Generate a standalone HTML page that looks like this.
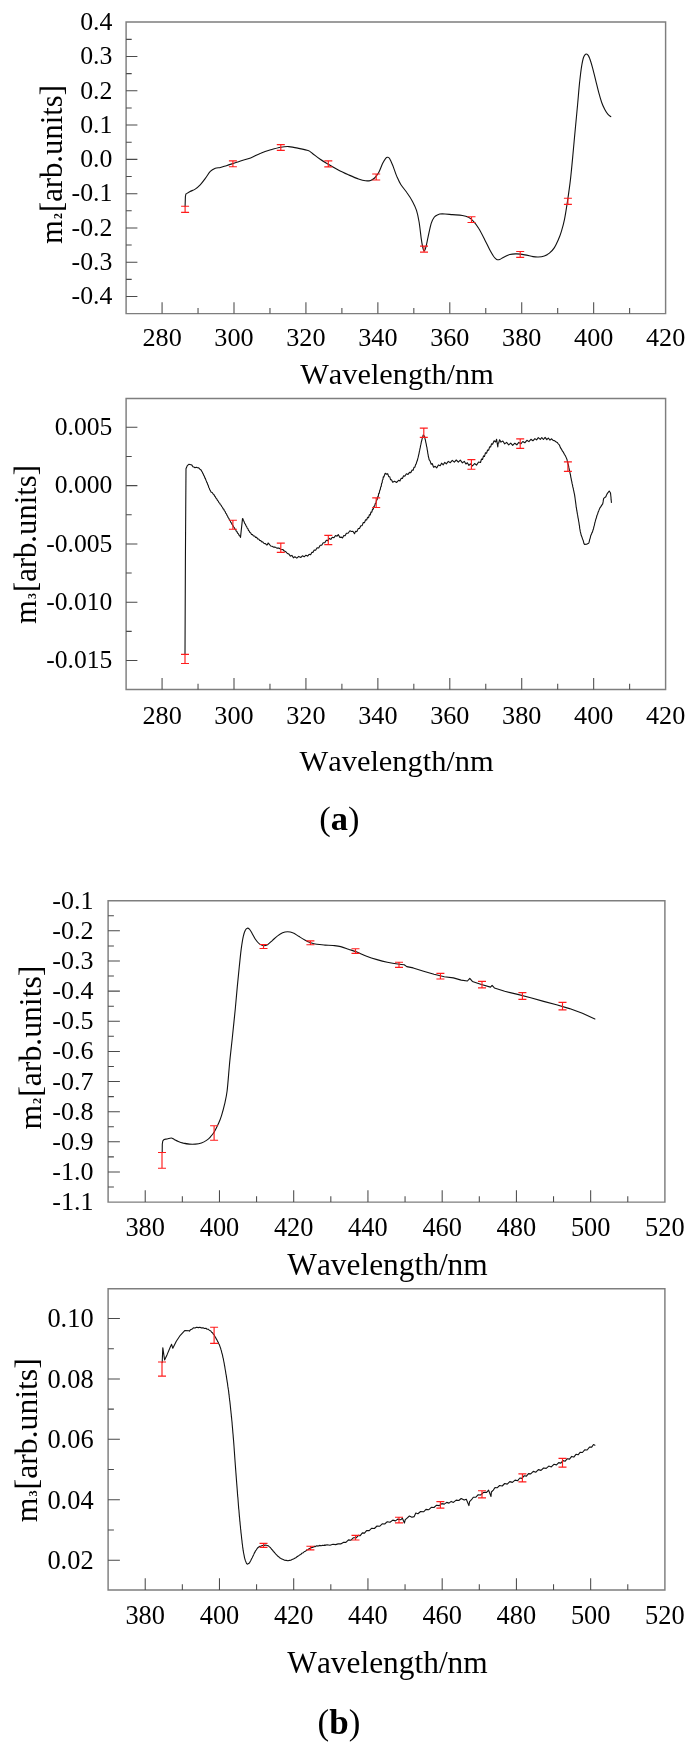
<!DOCTYPE html>
<html><head><meta charset="utf-8"><title>Figure</title>
<style>
html,body{margin:0;padding:0;background:#fff;}
body{width:695px;height:1752px;overflow:hidden;font-family:"Liberation Serif",serif;}
svg{display:block;will-change:transform;transform:translateZ(0);}
</style></head><body>
<svg width="695" height="1752" viewBox="0 0 695 1752" font-family='"Liberation Serif", serif' fill="#000" style="font-kerning:none">
<path d="M126.10 21.90H665.60V313.60H126.10Z" fill="none" stroke="#7e7e7e" stroke-width="1.45"/>
<path d="M126.10 296.52h11.3M126.10 262.23h11.3M126.10 227.94h11.3M126.10 193.65h11.3M126.10 159.36h11.3M126.10 125.07h11.3M126.10 90.78h11.3M126.10 56.49h11.3M126.10 279.37h5.6M126.10 245.09h5.6M126.10 210.80h5.6M126.10 176.51h5.6M126.10 142.22h5.6M126.10 107.92h5.6M126.10 73.64h5.6M126.10 39.35h5.6" stroke="#4a4a4a" stroke-width="1.05" fill="none"/>
<path d="M162.07 313.60v-11.3M234.00 313.60v-11.3M305.93 313.60v-11.3M377.87 313.60v-11.3M449.80 313.60v-11.3M521.73 313.60v-11.3M593.67 313.60v-11.3M198.03 313.60v-5.6M269.97 313.60v-5.6M341.90 313.60v-5.6M413.83 313.60v-5.6M485.77 313.60v-5.6M557.70 313.60v-5.6M629.63 313.60v-5.6" stroke="#4a4a4a" stroke-width="1.05" fill="none"/>
<text x="112.4" y="304.2" font-size="25.8" text-anchor="end" >-0.4</text>
<text x="112.4" y="269.9" font-size="25.8" text-anchor="end" >-0.3</text>
<text x="112.4" y="235.6" font-size="25.8" text-anchor="end" >-0.2</text>
<text x="112.4" y="201.3" font-size="25.8" text-anchor="end" >-0.1</text>
<text x="112.4" y="167.1" font-size="25.8" text-anchor="end" >0.0</text>
<text x="112.4" y="132.8" font-size="25.8" text-anchor="end" >0.1</text>
<text x="112.4" y="98.5" font-size="25.8" text-anchor="end" >0.2</text>
<text x="112.4" y="64.2" font-size="25.8" text-anchor="end" >0.3</text>
<text x="112.4" y="29.9" font-size="25.8" text-anchor="end" >0.4</text>
<text x="162.1" y="346.2" font-size="26.2" text-anchor="middle" >280</text>
<text x="234.0" y="346.2" font-size="26.2" text-anchor="middle" >300</text>
<text x="305.9" y="346.2" font-size="26.2" text-anchor="middle" >320</text>
<text x="377.9" y="346.2" font-size="26.2" text-anchor="middle" >340</text>
<text x="449.8" y="346.2" font-size="26.2" text-anchor="middle" >360</text>
<text x="521.7" y="346.2" font-size="26.2" text-anchor="middle" >380</text>
<text x="593.7" y="346.2" font-size="26.2" text-anchor="middle" >400</text>
<text x="665.6" y="346.2" font-size="26.2" text-anchor="middle" >420</text>
<text x="397.0" y="383.5" font-size="30.3" text-anchor="middle" >Wavelength/nm</text>
<text transform="translate(61.8 164.5) rotate(-90)" font-size="30.7" text-anchor="middle">m<tspan font-size="11.8" dx="0.9" font-weight="bold">2</tspan><tspan dx="1.1">[arb.units]</tspan></text>
<path d="M185.1 206.2L185.4 196.5L185.9 194.0C186.6 193.6 188.6 192.3 190.1 191.5C191.6 190.7 193.5 190.2 195.2 189.1C196.9 188.0 198.5 186.7 200.2 184.9C201.9 183.1 203.6 180.7 205.3 178.4C207.0 176.2 208.6 173.1 210.3 171.4C212.0 169.7 213.6 169.0 215.3 168.3C217.0 167.7 218.6 167.9 220.4 167.5C222.2 167.1 224.4 166.3 226.4 165.7C228.4 165.1 230.1 164.5 232.4 163.7C234.8 162.9 237.5 161.9 240.5 160.9C243.5 159.9 247.2 159.2 250.6 157.9C254.0 156.6 257.3 154.5 260.7 153.2C264.1 151.8 267.3 150.8 270.7 149.8C274.1 148.8 277.8 147.7 280.8 147.2C283.8 146.7 285.9 146.4 288.9 146.6C291.9 146.8 295.7 147.7 298.9 148.4C302.1 149.1 305.9 149.8 308.1 150.6C310.3 151.4 310.2 151.8 312.2 153.2C314.2 154.6 317.5 157.5 320.2 159.3C322.9 161.2 325.3 162.5 328.3 164.3C331.3 166.1 335.0 168.2 338.3 170.0C341.6 171.8 345.0 173.3 348.4 174.8C351.8 176.3 355.6 178.0 358.5 179.0C361.4 180.0 363.5 180.6 365.5 180.8C367.5 181.0 369.1 180.9 370.6 180.4C372.1 179.9 373.3 179.3 374.6 178.0C375.9 176.7 377.2 175.2 378.6 172.8C380.0 170.4 381.5 165.7 382.7 163.3C383.9 160.9 384.9 159.3 385.7 158.3C386.5 157.3 387.0 157.2 387.7 157.3C388.4 157.4 388.9 157.4 389.7 158.7C390.5 160.0 391.5 162.4 392.7 165.3C393.9 168.2 395.4 173.2 396.8 176.4C398.2 179.6 399.1 181.8 400.8 184.5C402.5 187.2 404.9 189.7 406.8 192.5C408.8 195.3 410.9 198.4 412.5 201.4C414.1 204.4 415.4 207.0 416.5 210.4C417.6 213.8 418.3 217.3 419.1 222.0C419.9 226.7 420.6 234.2 421.2 238.4C421.8 242.7 422.3 245.4 422.8 247.5C423.3 249.6 423.7 250.9 424.2 250.9C424.7 250.9 425.1 249.9 425.8 247.5C426.5 245.1 427.3 240.4 428.2 236.4C429.1 232.4 430.2 226.5 431.2 223.3C432.2 220.1 433.2 218.7 434.2 217.3C435.2 215.9 435.9 215.5 437.3 214.9C438.7 214.3 439.8 213.9 442.3 213.8C444.8 213.8 449.0 214.3 452.4 214.6C455.8 214.9 459.7 215.1 462.4 215.5C465.1 215.9 466.6 216.3 468.5 217.3C470.4 218.3 471.8 219.5 473.5 221.3C475.2 223.1 476.8 225.3 478.6 228.3C480.5 231.3 482.8 235.9 484.6 239.4C486.4 242.9 488.1 246.7 489.6 249.5C491.1 252.3 492.5 254.8 493.7 256.5C494.9 258.1 495.7 258.9 496.7 259.4C497.7 259.9 498.5 259.8 499.7 259.4C500.9 259.0 502.0 258.0 503.7 257.2C505.4 256.4 507.6 255.1 509.8 254.5C512.0 253.9 514.3 253.8 516.8 253.9C519.3 254.0 522.2 254.4 524.9 254.9C527.6 255.4 530.8 256.2 533.0 256.6C535.2 257.0 536.4 257.1 538.3 257.0C540.2 256.9 542.4 256.6 544.3 256.0C546.1 255.4 547.7 254.6 549.4 253.2C551.1 251.8 552.9 249.9 554.4 247.6C555.9 245.3 557.2 242.2 558.4 239.5C559.6 236.8 560.4 234.8 561.4 231.4C562.4 228.1 563.5 224.4 564.5 219.4C565.5 214.4 566.5 207.9 567.5 201.2C568.5 194.5 569.6 186.8 570.5 179.1C571.4 171.4 572.1 163.6 572.9 154.9C573.7 146.2 574.7 135.1 575.5 126.7C576.3 118.3 576.9 111.9 577.6 104.5C578.3 97.1 578.9 88.8 579.6 82.4C580.3 76.0 580.9 70.5 581.6 66.3C582.3 62.1 582.9 59.2 583.6 57.2C584.3 55.2 584.9 54.6 585.6 54.2C586.3 53.8 586.9 53.9 587.6 54.6C588.3 55.3 588.8 55.9 589.6 58.2C590.5 60.5 591.7 64.6 592.7 68.3C593.7 72.0 594.7 76.4 595.7 80.4C596.7 84.4 597.7 88.7 598.7 92.4C599.7 96.1 600.7 99.6 601.7 102.5C602.7 105.4 603.8 107.6 604.8 109.6C605.8 111.5 606.8 113.0 607.8 114.2C608.8 115.4 610.3 116.2 610.8 116.6" stroke="#111" stroke-width="1.10" fill="none" stroke-linejoin="round" stroke-linecap="round"/>
<path d="M185.1 206.2V212.3M181.1 206.2h8.0M181.1 212.3h8.0M232.9 160.9V166.7M228.9 160.9h8.0M228.9 166.7h8.0M280.8 144.6V150.4M276.8 144.6h8.0M276.8 150.4h8.0M328.3 160.9V166.9M324.3 160.9h8.0M324.3 166.9h8.0M376.2 174.0V180.0M372.2 174.0h8.0M372.2 180.0h8.0M424.0 246.1V252.1M420.0 246.1h8.0M420.0 252.1h8.0M471.5 216.7V222.5M467.5 216.7h8.0M467.5 222.5h8.0M520.2 251.5V257.3M516.2 251.5h8.0M516.2 257.3h8.0M567.9 198.2V204.3M563.9 198.2h8.0M563.9 204.3h8.0" stroke="#ff1c1c" stroke-width="1.15" fill="none"/>
<path d="M126.10 398.40H665.60V689.40H126.10Z" fill="none" stroke="#7e7e7e" stroke-width="1.45"/>
<path d="M126.10 427.30h11.3M126.10 485.60h11.3M126.10 543.90h11.3M126.10 602.20h11.3M126.10 660.50h11.3M126.10 456.45h5.6M126.10 514.75h5.6M126.10 573.05h5.6M126.10 631.35h5.6" stroke="#4a4a4a" stroke-width="1.05" fill="none"/>
<path d="M162.07 689.40v-11.3M234.00 689.40v-11.3M305.93 689.40v-11.3M377.87 689.40v-11.3M449.80 689.40v-11.3M521.73 689.40v-11.3M593.67 689.40v-11.3M198.03 689.40v-5.6M269.97 689.40v-5.6M341.90 689.40v-5.6M413.83 689.40v-5.6M485.77 689.40v-5.6M557.70 689.40v-5.6M629.63 689.40v-5.6" stroke="#4a4a4a" stroke-width="1.05" fill="none"/>
<text x="112.3" y="435.0" font-size="25.6" text-anchor="end" >0.005</text>
<text x="112.3" y="493.3" font-size="25.6" text-anchor="end" >0.000</text>
<text x="112.3" y="551.6" font-size="25.6" text-anchor="end" >-0.005</text>
<text x="112.3" y="609.9" font-size="25.6" text-anchor="end" >-0.010</text>
<text x="112.3" y="668.2" font-size="25.6" text-anchor="end" >-0.015</text>
<text x="162.1" y="723.6" font-size="26.2" text-anchor="middle" >280</text>
<text x="234.0" y="723.6" font-size="26.2" text-anchor="middle" >300</text>
<text x="305.9" y="723.6" font-size="26.2" text-anchor="middle" >320</text>
<text x="377.9" y="723.6" font-size="26.2" text-anchor="middle" >340</text>
<text x="449.8" y="723.6" font-size="26.2" text-anchor="middle" >360</text>
<text x="521.7" y="723.6" font-size="26.2" text-anchor="middle" >380</text>
<text x="593.7" y="723.6" font-size="26.2" text-anchor="middle" >400</text>
<text x="665.6" y="723.6" font-size="26.2" text-anchor="middle" >420</text>
<text x="396.6" y="770.5" font-size="30.4" text-anchor="middle" >Wavelength/nm</text>
<text transform="translate(36.1 544.5) rotate(-90)" font-size="30.7" text-anchor="middle">m<tspan font-size="11.8" dx="0.9" font-weight="bold">3</tspan><tspan dx="1.1">[arb.units]</tspan></text>
<path d="M185.0 654.4L185.4 560.0L186.0 468.8L187.3 465.6L188.8 464.3L191.0 464.8L191.9 465.1L192.9 466.7L193.9 467.1L195.0 467.7L196.3 467.2L197.5 467.8L198.7 467.9L199.9 469.2L201.1 470.0L201.7 471.3L202.2 471.8L202.8 473.4L203.3 474.1L203.9 475.7L204.4 476.3L204.9 478.0L205.4 478.5L205.9 480.2L206.3 480.8L206.8 482.4L207.3 483.1L207.8 484.8L208.3 485.6L208.8 487.5L209.3 488.2L209.8 489.9L210.3 490.4L211.2 492.2L212.2 492.5L213.3 494.3L213.9 494.6L214.6 496.0L215.2 496.6L216.0 498.2L216.7 498.8L217.5 500.5L218.3 501.1L218.9 502.6L219.6 503.1L220.3 504.6L221.0 505.1L221.7 506.6L222.4 507.1L223.1 508.7L223.8 509.2L224.4 510.8L225.1 511.4L225.7 513.1L226.4 513.8L227.0 515.4L227.6 516.1L228.2 517.7L228.8 518.3L229.4 519.8L230.1 520.6L230.8 522.4L231.5 523.0L232.2 524.7L232.8 525.3L233.5 526.9L234.2 527.4L234.9 529.0L235.6 529.6L236.2 531.1L236.9 531.5L237.5 533.0L238.4 533.8L239.2 535.5L240.0 536.1L240.5 537.4L242.5 518.6L242.9 518.7L243.4 520.5L244.0 521.3L244.7 523.4L245.5 524.3L246.0 525.9L246.6 526.4L247.2 528.1L247.9 528.7L248.5 530.5L249.2 530.9L249.9 532.5L250.6 532.8L251.5 534.5L252.5 534.6L253.5 536.0L254.6 536.0L255.6 537.4L256.6 537.3L257.6 538.9L258.7 539.0L259.7 540.4L260.8 540.6L261.8 542.0L262.7 541.9L264.1 543.5L265.4 543.6L266.6 544.9L267.4 544.7L268.1 543.0L269.0 543.9L270.7 546.0L272.0 546.2L273.5 547.1L275.2 547.1L276.8 548.1L278.8 548.1L280.8 549.2L282.8 549.5L284.3 551.1L285.9 551.8L287.4 553.5L288.9 554.1L290.4 556.1L291.9 555.4L293.4 557.8L294.9 556.7L296.8 558.1L298.7 556.4L300.9 557.4L302.4 555.8L304.2 556.8L305.9 555.2L307.6 556.1L309.1 554.3L310.6 554.7L311.8 552.4L312.9 552.4L314.2 550.0L315.6 550.2L317.1 547.7L318.7 548.0L320.2 545.2L321.7 545.3L323.2 542.7L324.8 542.7L326.3 540.2L327.8 540.6L329.3 538.4L330.8 539.4L332.3 537.2L333.9 537.8L335.5 535.6L337.0 536.2L338.3 534.6L339.9 537.4L341.4 537.1L342.5 538.0L343.8 535.6L345.1 535.8L346.4 533.2L348.1 533.3L349.9 530.8L351.4 531.5L352.9 531.3L354.5 533.7L355.6 531.3L356.9 531.6L358.2 528.6L359.5 528.5L360.8 525.7L362.1 525.6L363.3 522.5L364.5 522.6L365.6 519.8L366.6 520.0L367.6 517.4L368.6 517.6L369.4 514.7L370.2 515.0L371.0 512.0L371.8 512.1L372.6 509.0L373.3 509.1L373.9 506.3L374.6 506.2L375.3 503.5L375.9 503.1L376.6 500.0L377.1 500.0L377.6 496.8L378.2 496.7L378.7 493.4L379.2 493.4L379.8 490.0L380.2 489.9L380.7 486.9L381.2 486.5L381.6 483.4L382.1 482.9L382.5 479.8L382.9 479.8L383.3 476.8L383.7 477.2L385.2 473.3L386.7 474.3L387.7 473.7L388.7 476.7L389.7 476.7L390.6 479.8L391.5 479.7L392.7 482.2L394.5 481.2L396.7 482.4L398.8 480.2L400.0 480.9L401.2 478.2L402.4 478.4L403.6 475.8L404.8 476.3L406.4 473.8L408.0 474.4L409.5 472.4L410.9 472.6L412.1 470.0L413.1 470.3L414.0 467.4L414.9 467.2L415.6 464.7L416.2 463.9L416.7 461.9L417.3 460.6L417.9 458.1L418.2 457.2L418.6 455.2L418.9 454.1L419.3 451.9L419.6 450.7L420.0 448.5L420.3 447.4L420.6 445.3L420.9 444.4L421.4 441.7L421.9 440.0L422.4 437.6L422.8 436.6L423.2 435.0L424.4 436.2L424.7 436.9L425.0 438.8L425.4 440.0L425.8 442.3L426.2 443.8L426.6 446.3L426.9 447.3L427.2 449.6L427.5 450.9L427.8 453.3L428.1 454.6L428.4 456.8L428.8 457.9L429.1 459.6L430.1 461.0L431.2 464.3L432.2 463.5L433.6 467.3L435.2 466.3L436.7 467.9L438.4 464.9L440.2 465.8L441.6 463.2L443.2 464.8L444.8 462.4L446.3 463.8L448.3 461.4L450.3 462.7L452.3 460.3L454.3 462.1L456.3 460.0L458.3 462.1L460.3 460.2L462.4 462.8L464.4 461.4L465.9 464.0L467.4 462.8L468.9 465.4L470.4 463.8L472.5 465.8L474.6 463.5L476.5 465.1L478.6 462.0L480.5 462.5L481.5 459.0L482.5 459.5L483.5 455.9L484.5 456.4L485.5 452.7L486.6 453.2L487.6 450.0L488.6 450.3L489.6 446.9L490.6 447.0L491.6 443.7L492.6 444.2L494.1 440.8L495.6 442.0L496.6 439.3L497.8 447.0L498.1 443.3L498.7 443.0L499.6 439.7L501.0 442.1L502.8 441.0L504.7 443.9L506.6 442.4L508.7 444.9L510.7 443.1L512.7 445.3L514.8 443.2L516.8 444.8L518.8 442.4L520.8 443.8L522.8 441.5L524.8 442.8L526.9 440.3L528.9 441.6L530.9 439.3L532.9 440.8L534.9 438.6L536.6 439.9L538.3 437.6L540.3 439.4L541.8 437.5L543.4 439.5L545.1 437.4L546.8 439.7L548.3 438.0L550.0 440.1L551.6 438.8L553.1 440.4L554.4 440.6L555.9 441.8L557.2 442.4L558.4 444.0L559.5 445.2L560.4 447.6L561.4 449.1L562.5 451.2L563.5 452.4L564.5 454.5L565.3 455.6L566.1 457.4L566.9 459.2L567.3 460.9L567.6 461.9L568.0 463.8L568.4 465.0L568.8 467.2L569.1 468.5L569.5 470.6L569.8 471.8L570.2 473.8L570.5 475.0L570.8 477.1L571.1 478.4L571.5 480.6L571.8 481.7L572.1 483.7L572.5 484.9L572.8 486.9L573.2 488.1L573.5 489.9L573.8 491.1L574.2 493.1L574.5 494.4L574.8 496.4L575.0 497.7L575.3 500.0L575.5 501.4L575.8 503.6L576.0 505.0L576.2 507.2L576.5 508.5L576.8 510.7L577.1 512.1L577.4 514.2L577.7 515.5L578.0 517.6L578.3 518.8L578.6 521.0L578.9 522.3L579.2 524.6L579.5 526.1L579.7 528.4L580.0 529.7L580.3 531.7L580.6 532.7L581.3 535.6L581.9 536.9L582.6 539.1L583.3 540.8L583.9 543.4L584.6 544.4L586.6 544.2L588.6 543.2L589.1 542.2L589.6 539.8L590.2 538.1L590.7 535.7L591.3 534.6L591.9 532.9L592.5 531.9L593.1 529.7L593.5 528.7L593.9 526.6L594.4 525.2L594.8 523.0L595.2 521.7L595.7 519.6L596.3 518.0L596.9 515.6L597.6 514.2L598.2 511.9L598.7 510.9L599.8 508.1L600.7 506.9L601.8 505.1L602.7 503.9L603.1 501.9L603.3 500.4L603.7 498.4L605.8 496.8L606.8 494.4L607.8 492.8L609.2 491.0L610.4 492.8L610.6 493.7L610.8 495.8L611.0 497.4L611.1 499.7L611.3 501.0L611.4 502.5" stroke="#111" stroke-width="1.10" fill="none" stroke-linejoin="round" stroke-linecap="round"/>
<path d="M185.0 654.4V663.5M181.0 654.4h8.0M181.0 663.5h8.0M232.9 520.2V529.2M228.9 520.2h8.0M228.9 529.2h8.0M280.8 543.1V552.4M276.8 543.1h8.0M276.8 552.4h8.0M328.3 535.3V544.6M324.3 535.3h8.0M324.3 544.6h8.0M376.2 497.8V507.5M372.2 497.8h8.0M372.2 507.5h8.0M423.8 428.1V437.4M419.8 428.1h8.0M419.8 437.4h8.0M471.4 459.6V469.2M467.4 459.6h8.0M467.4 469.2h8.0M520.2 438.8V448.3M516.2 438.8h8.0M516.2 448.3h8.0M567.9 461.8V471.4M563.9 461.8h8.0M563.9 471.4h8.0" stroke="#ff1c1c" stroke-width="1.15" fill="none"/>
<text x="339.3" y="829.9" font-size="34.5" text-anchor="middle">(<tspan font-weight="bold">a</tspan>)</text>
<path d="M108.10 900.70H664.90V1202.10H108.10Z" fill="none" stroke="#7e7e7e" stroke-width="1.45"/>
<path d="M108.10 930.84h11.8M108.10 960.98h11.8M108.10 991.12h11.8M108.10 1021.26h11.8M108.10 1051.40h11.8M108.10 1081.54h11.8M108.10 1111.68h11.8M108.10 1141.82h11.8M108.10 1171.96h11.8M108.10 915.77h5.8M108.10 945.91h5.8M108.10 976.05h5.8M108.10 1006.19h5.8M108.10 1036.33h5.8M108.10 1066.47h5.8M108.10 1096.61h5.8M108.10 1126.75h5.8M108.10 1156.89h5.8M108.10 1187.03h5.8" stroke="#4a4a4a" stroke-width="1.05" fill="none"/>
<path d="M145.22 1202.10v-11.8M219.46 1202.10v-11.8M293.70 1202.10v-11.8M367.94 1202.10v-11.8M442.18 1202.10v-11.8M516.42 1202.10v-11.8M590.66 1202.10v-11.8M182.34 1202.10v-5.8M256.58 1202.10v-5.8M330.82 1202.10v-5.8M405.06 1202.10v-5.8M479.30 1202.10v-5.8M553.54 1202.10v-5.8M627.78 1202.10v-5.8" stroke="#4a4a4a" stroke-width="1.05" fill="none"/>
<text x="93.4" y="908.7" font-size="26.0" text-anchor="end" >-0.1</text>
<text x="93.4" y="938.8" font-size="26.0" text-anchor="end" >-0.2</text>
<text x="93.4" y="969.0" font-size="26.0" text-anchor="end" >-0.3</text>
<text x="93.4" y="999.1" font-size="26.0" text-anchor="end" >-0.4</text>
<text x="93.4" y="1029.3" font-size="26.0" text-anchor="end" >-0.5</text>
<text x="93.4" y="1059.4" font-size="26.0" text-anchor="end" >-0.6</text>
<text x="93.4" y="1089.5" font-size="26.0" text-anchor="end" >-0.7</text>
<text x="93.4" y="1119.7" font-size="26.0" text-anchor="end" >-0.8</text>
<text x="93.4" y="1149.8" font-size="26.0" text-anchor="end" >-0.9</text>
<text x="93.4" y="1180.0" font-size="26.0" text-anchor="end" >-1.0</text>
<text x="93.4" y="1210.1" font-size="26.0" text-anchor="end" >-1.1</text>
<text x="145.2" y="1235.5" font-size="26.4" text-anchor="middle" >380</text>
<text x="219.5" y="1235.5" font-size="26.4" text-anchor="middle" >400</text>
<text x="293.7" y="1235.5" font-size="26.4" text-anchor="middle" >420</text>
<text x="367.9" y="1235.5" font-size="26.4" text-anchor="middle" >440</text>
<text x="442.2" y="1235.5" font-size="26.4" text-anchor="middle" >460</text>
<text x="516.4" y="1235.5" font-size="26.4" text-anchor="middle" >480</text>
<text x="590.7" y="1235.5" font-size="26.4" text-anchor="middle" >500</text>
<text x="664.9" y="1235.5" font-size="26.4" text-anchor="middle" >520</text>
<text x="387.5" y="1274.5" font-size="31.4" text-anchor="middle" >Wavelength/nm</text>
<text transform="translate(41.0 1047.6) rotate(-90)" font-size="31.7" text-anchor="middle">m<tspan font-size="12.2" dx="0.9" font-weight="bold">2</tspan><tspan dx="1.1">[arb.units]</tspan></text>
<path d="M162.2 1152.5L162.3 1144.0L162.8 1141.0C163.0 1140.7 163.5 1139.7 164.2 1139.4C164.9 1139.1 166.0 1139.2 167.2 1139.0C168.4 1138.8 170.0 1137.9 171.2 1138.0C172.4 1138.1 173.0 1138.8 174.2 1139.4C175.4 1140.0 176.8 1140.8 178.3 1141.4C179.8 1142.0 181.5 1142.6 183.3 1143.1C185.2 1143.5 187.4 1143.9 189.4 1144.1C191.4 1144.3 193.4 1144.3 195.4 1144.1C197.4 1143.9 199.6 1143.5 201.4 1142.9C203.2 1142.3 205.0 1141.4 206.5 1140.4C208.0 1139.4 209.2 1138.3 210.5 1136.8C211.8 1135.3 213.2 1133.7 214.5 1131.4C215.8 1129.2 217.4 1126.0 218.6 1123.3C219.8 1120.6 220.6 1118.5 221.6 1115.3C222.6 1112.1 223.7 1108.2 224.6 1104.2C225.5 1100.2 226.4 1096.7 227.1 1091.0C227.8 1085.3 228.5 1075.7 229.0 1070.0C229.5 1064.3 229.6 1062.9 230.2 1057.1C230.8 1051.3 231.8 1043.0 232.6 1035.0C233.4 1027.0 234.5 1016.9 235.3 1008.8C236.1 1000.7 236.6 993.6 237.3 986.6C238.0 979.6 238.6 972.9 239.3 966.5C240.0 960.1 240.6 953.3 241.3 948.3C242.0 943.3 242.6 939.3 243.3 936.3C244.0 933.3 244.6 931.6 245.3 930.2C246.0 928.9 246.6 928.4 247.3 928.2C248.0 928.0 248.6 928.4 249.4 929.2C250.2 930.0 251.0 931.5 252.0 933.2C253.0 934.9 254.2 937.5 255.4 939.3C256.6 941.1 258.0 942.8 259.4 943.9C260.8 945.0 262.1 945.6 263.5 945.7C264.9 945.8 266.0 945.6 267.5 944.7C269.0 943.8 270.8 941.8 272.5 940.3C274.2 938.8 275.9 937.1 277.6 935.9C279.3 934.6 280.9 933.5 282.6 932.8C284.3 932.1 285.9 931.8 287.6 931.8C289.3 931.8 290.9 932.0 292.7 932.8C294.5 933.5 296.7 935.1 298.7 936.3C300.7 937.5 302.8 938.8 304.8 939.9C306.8 941.0 308.8 942.0 310.8 942.7C312.8 943.4 314.5 943.9 316.8 944.3C319.1 944.7 322.2 944.9 324.9 945.1C327.6 945.3 330.4 945.2 333.0 945.5C335.6 945.8 338.1 946.0 340.7 946.6C343.3 947.2 345.9 948.3 348.5 949.2C351.1 950.1 353.3 950.6 356.3 951.8C359.3 953.0 363.2 954.9 366.6 956.2C370.1 957.5 373.6 958.6 377.0 959.6C380.4 960.6 383.9 961.5 387.3 962.2C390.8 962.9 394.9 963.6 397.7 964.0C400.5 964.4 403.1 964.7 404.2 964.8L406.8 966.6L413.2 967.9L423.6 971.2L434.0 974.3L444.3 976.7L453.4 977.9L461.2 980.1L467.4 981.0L469.8 978.3L472.4 981.4L481.4 984.5L490.5 987.1L492.1 985.3L494.4 987.9L504.7 991.3L517.7 994.4L530.7 997.8L543.6 1001.4L556.5 1004.7L569.5 1008.6L582.4 1013.3L594.9 1019.0" stroke="#111" stroke-width="1.10" fill="none" stroke-linejoin="round" stroke-linecap="round"/>
<path d="M162.0 1152.5V1168.2M158.0 1152.5h8.0M158.0 1168.2h8.0M214.1 1125.7V1140.2M210.1 1125.7h8.0M210.1 1140.2h8.0M263.5 944.5V948.5M259.5 944.5h8.0M259.5 948.5h8.0M310.4 940.9V944.7M306.4 940.9h8.0M306.4 944.7h8.0M355.5 948.7V953.4M351.5 948.7h8.0M351.5 953.4h8.0M399.0 962.2V967.3M395.0 962.2h8.0M395.0 967.3h8.0M440.4 973.3V979.0M436.4 973.3h8.0M436.4 979.0h8.0M482.0 981.4V987.9M478.0 981.4h8.0M478.0 987.9h8.0M522.4 992.6V999.3M518.4 992.6h8.0M518.4 999.3h8.0M562.5 1002.4V1009.9M558.5 1002.4h8.0M558.5 1009.9h8.0" stroke="#ff1c1c" stroke-width="1.15" fill="none"/>
<path d="M108.10 1288.70H664.90V1590.00H108.10Z" fill="none" stroke="#7e7e7e" stroke-width="1.45"/>
<path d="M108.10 1560.18h11.8M108.10 1499.76h11.8M108.10 1439.34h11.8M108.10 1378.92h11.8M108.10 1318.50h11.8M108.10 1529.97h5.8M108.10 1469.55h5.8M108.10 1409.13h5.8M108.10 1348.71h5.8" stroke="#4a4a4a" stroke-width="1.05" fill="none"/>
<path d="M145.22 1590.00v-11.8M219.46 1590.00v-11.8M293.70 1590.00v-11.8M367.94 1590.00v-11.8M442.18 1590.00v-11.8M516.42 1590.00v-11.8M590.66 1590.00v-11.8M182.34 1590.00v-5.8M256.58 1590.00v-5.8M330.82 1590.00v-5.8M405.06 1590.00v-5.8M479.30 1590.00v-5.8M553.54 1590.00v-5.8M627.78 1590.00v-5.8" stroke="#4a4a4a" stroke-width="1.05" fill="none"/>
<text x="93.6" y="1569.1" font-size="26.4" text-anchor="end" >0.02</text>
<text x="93.6" y="1508.7" font-size="26.4" text-anchor="end" >0.04</text>
<text x="93.6" y="1448.2" font-size="26.4" text-anchor="end" >0.06</text>
<text x="93.6" y="1387.8" font-size="26.4" text-anchor="end" >0.08</text>
<text x="93.6" y="1327.4" font-size="26.4" text-anchor="end" >0.10</text>
<text x="145.2" y="1624.2" font-size="26.4" text-anchor="middle" >380</text>
<text x="219.5" y="1624.2" font-size="26.4" text-anchor="middle" >400</text>
<text x="293.7" y="1624.2" font-size="26.4" text-anchor="middle" >420</text>
<text x="367.9" y="1624.2" font-size="26.4" text-anchor="middle" >440</text>
<text x="442.2" y="1624.2" font-size="26.4" text-anchor="middle" >460</text>
<text x="516.4" y="1624.2" font-size="26.4" text-anchor="middle" >480</text>
<text x="590.7" y="1624.2" font-size="26.4" text-anchor="middle" >500</text>
<text x="664.9" y="1624.2" font-size="26.4" text-anchor="middle" >520</text>
<text x="387.5" y="1673.4" font-size="31.4" text-anchor="middle" >Wavelength/nm</text>
<text transform="translate(36.9 1440.2) rotate(-90)" font-size="31.7" text-anchor="middle">m<tspan font-size="12.2" dx="0.9" font-weight="bold">3</tspan><tspan dx="1.1">[arb.units]</tspan></text>
<path d="M162.2 1362.4L162.8 1347.7L164.6 1360.0L167.2 1354.4L170.2 1347.3L171.6 1344.3L172.8 1348.3L176.3 1341.3L180.3 1335.3L184.7 1330.6L189.4 1330.8L189.4 1331.1L190.4 1329.8L191.8 1329.3L193.4 1327.9L195.0 1328.0L196.6 1327.2L198.4 1327.6L199.9 1327.2L201.4 1327.9L203.0 1327.7L204.5 1328.5L205.9 1328.3L207.1 1329.2L208.3 1329.2L209.5 1330.5L210.6 1330.7L211.6 1332.2L212.5 1332.7L213.5 1334.4L214.2 1334.9L214.9 1336.6L215.6 1337.5L216.3 1338.9L217.0 1340.0L217.6 1341.4L218.3 1342.5L218.9 1343.9L219.5 1345.1L220.0 1346.6L220.6 1348.2L220.9 1349.4L221.3 1350.5L221.6 1351.8L221.9 1353.0L222.3 1354.4L222.6 1355.7L222.9 1357.3L223.3 1358.7L223.6 1360.5L223.8 1361.5L224.1 1362.9L224.3 1364.0L224.5 1365.5L224.8 1366.7L225.0 1368.2L225.2 1369.5L225.5 1371.0L225.7 1372.3L225.9 1373.8L226.2 1375.1L226.4 1376.7L226.6 1377.9L226.8 1379.3L227.0 1380.4L227.2 1381.8L227.4 1382.9L227.6 1384.2L227.7 1385.3L227.9 1386.7L228.1 1387.8L228.3 1389.2L228.5 1390.4L228.7 1391.9L228.8 1393.1L229.0 1394.7L229.2 1396.0L229.3 1397.4L229.5 1398.5L229.6 1399.9L229.8 1401.2L230.0 1402.7L230.1 1403.9L230.3 1405.5L230.4 1406.8L230.6 1408.4L230.7 1409.7L230.9 1411.3L231.0 1412.5L231.2 1414.1L231.3 1415.3L231.4 1416.7L231.6 1417.9L231.7 1419.2L231.8 1420.2L232.0 1422.0L232.1 1423.2L232.2 1424.7L232.3 1425.8L232.4 1427.0L232.5 1428.0L232.6 1429.3L232.7 1430.4L232.8 1431.8L232.9 1433.0L233.1 1434.7L233.2 1436.3L233.3 1437.6L233.4 1438.6L233.5 1439.9L233.6 1441.0L233.7 1442.4L233.8 1443.6L233.9 1445.0L234.0 1446.3L234.1 1447.8L234.2 1449.1L234.3 1450.7L234.4 1452.0L234.5 1453.5L234.6 1454.8L234.7 1456.4L234.8 1457.7L234.9 1459.2L235.0 1460.5L235.1 1462.0L235.2 1463.2L235.3 1464.7L235.4 1465.9L235.5 1467.4L235.6 1468.6L235.7 1470.1L235.8 1471.3L235.9 1472.7L236.0 1473.9L236.1 1475.4L236.2 1476.6L236.3 1478.0L236.4 1479.2L236.5 1480.6L236.6 1481.8L236.7 1483.2L236.8 1484.4L236.9 1485.8L237.0 1486.9L237.1 1488.3L237.2 1489.5L237.3 1490.9L237.4 1492.1L237.5 1493.7L237.6 1494.9L237.7 1496.5L237.9 1497.7L238.0 1499.2L238.1 1500.5L238.2 1502.0L238.3 1503.2L238.4 1504.7L238.5 1505.9L238.6 1507.4L238.7 1508.6L238.9 1510.0L239.0 1511.2L239.1 1512.6L239.2 1513.7L239.3 1515.1L239.4 1516.4L239.6 1518.0L239.7 1519.3L239.8 1520.8L240.0 1522.1L240.1 1523.6L240.2 1524.8L240.4 1526.3L240.5 1527.5L240.6 1528.9L240.8 1530.1L240.9 1531.5L241.0 1532.6L241.2 1534.0L241.3 1535.0L241.5 1536.7L241.6 1538.0L241.8 1539.6L242.0 1541.0L242.1 1542.5L242.3 1543.8L242.5 1545.3L242.6 1546.4L242.8 1547.8L243.0 1548.9L243.1 1550.2L243.3 1551.1L243.6 1553.0L243.9 1554.4L244.2 1555.9L244.4 1557.1L244.7 1558.3L245.0 1559.3L245.3 1560.4L246.0 1562.1L246.6 1563.6L247.3 1564.2L249.4 1563.0L250.1 1561.7L250.8 1560.5L251.6 1558.8L252.4 1557.4L253.0 1556.0L253.6 1554.9L254.2 1553.4L254.8 1552.4L255.4 1551.1L256.4 1549.7L257.3 1548.2L258.4 1547.3L259.7 1546.4L261.1 1546.0L262.5 1545.5L263.9 1545.4L265.2 1545.1L266.5 1545.3L268.1 1545.7L269.5 1546.9L270.5 1547.7L271.4 1549.0L272.5 1550.1L273.4 1551.4L274.5 1552.5L275.6 1553.9L276.6 1554.8L277.6 1556.0L278.6 1556.7L279.6 1557.7L280.6 1558.2L281.9 1559.1L283.2 1559.6L284.6 1560.2L286.2 1560.4L287.9 1560.7L289.6 1560.4L290.8 1560.2L292.1 1559.6L293.4 1559.1L294.7 1558.2L295.8 1557.7L297.0 1556.8L298.2 1556.1L299.5 1555.1L300.7 1554.6L301.9 1553.2L303.2 1552.8L304.4 1551.5L305.6 1551.2L306.8 1550.0L308.1 1549.7L309.4 1548.5L310.6 1548.4L311.8 1547.3L313.0 1547.4L314.1 1546.4L315.3 1546.6L316.8 1545.8L318.1 1546.1L319.6 1545.4L321.2 1545.7L322.7 1545.2L324.0 1545.5L324.9 1544.9L324.9 1545.5L327.0 1544.8L330.0 1545.2L333.0 1544.3L335.6 1544.6L338.1 1543.9L340.7 1543.9L343.3 1542.4L345.9 1542.4L348.5 1539.9L351.0 1540.2L353.5 1537.7L356.3 1537.8L358.2 1535.4L360.2 1535.6L362.4 1532.9L364.5 1533.1L366.6 1530.6L369.2 1530.6L371.8 1528.2L374.4 1528.5L377.0 1526.0L379.6 1526.3L382.2 1523.9L384.7 1524.0L387.3 1521.7L390.0 1522.3L392.8 1520.1L395.5 1520.9L397.7 1519.1L400.7 1519.8L402.4 1518.2L404.4 1523.0L405.3 1519.6L406.8 1518.3L409.4 1516.0L411.9 1517.2L413.2 1516.9L414.1 1516.7L415.8 1513.0L417.9 1513.7L420.6 1511.5L423.6 1511.8L426.0 1509.4L428.6 1509.8L431.3 1507.3L434.0 1507.5L436.6 1505.2L439.2 1505.6L441.8 1503.6L444.3 1504.1L446.7 1502.4L449.0 1503.1L451.2 1501.4L453.4 1502.4L456.2 1500.1L458.8 1500.5L461.2 1498.5L464.2 1500.1L466.3 1499.3L468.9 1505.6L469.6 1501.6L471.5 1499.7L473.3 1497.2L475.7 1497.3L478.2 1494.7L480.6 1495.0L483.6 1492.3L486.6 1492.4L488.6 1490.1L491.0 1496.5L491.4 1492.0L493.3 1490.1L495.0 1487.5L497.1 1487.8L499.6 1485.5L502.2 1486.0L504.7 1483.5L507.2 1484.1L509.8 1481.6L512.4 1482.4L515.1 1480.1L517.7 1480.7L519.9 1478.0L522.0 1478.4L524.2 1475.7L526.4 1476.1L528.5 1473.6L530.7 1473.9L533.3 1471.4L535.9 1472.2L538.4 1469.6L541.0 1470.4L543.6 1468.0L546.2 1468.4L548.8 1466.1L551.3 1466.9L553.9 1464.3L556.5 1464.9L558.7 1462.6L560.8 1463.1L563.0 1460.6L565.2 1461.2L567.3 1458.7L569.5 1459.1L571.7 1456.4L573.8 1457.1L576.0 1454.3L578.1 1454.8L580.3 1452.2L582.4 1452.5L584.7 1449.8L587.1 1450.0L589.5 1447.1L591.7 1447.1L593.5 1444.5L594.9 1445.2" stroke="#111" stroke-width="1.10" fill="none" stroke-linejoin="round" stroke-linecap="round"/>
<path d="M162.0 1362.0V1376.1M158.0 1362.0h8.0M158.0 1376.1h8.0M214.1 1327.2V1343.3M210.1 1327.2h8.0M210.1 1343.3h8.0M263.5 1543.4V1547.4M259.5 1543.4h8.0M259.5 1547.4h8.0M310.4 1546.2V1549.8M306.4 1546.2h8.0M306.4 1549.8h8.0M355.5 1535.3V1540.0M351.5 1535.3h8.0M351.5 1540.0h8.0M399.0 1517.2V1522.9M395.0 1517.2h8.0M395.0 1522.9h8.0M440.4 1501.6V1508.1M436.4 1501.6h8.0M436.4 1508.1h8.0M482.0 1490.7V1497.9M478.0 1490.7h8.0M478.0 1497.9h8.0M522.4 1473.8V1481.8M518.4 1473.8h8.0M518.4 1481.8h8.0M562.5 1458.3V1467.1M558.5 1458.3h8.0M558.5 1467.1h8.0" stroke="#ff1c1c" stroke-width="1.15" fill="none"/>
<text x="338.9" y="1733.5" font-size="35" text-anchor="middle">(<tspan font-weight="bold">b</tspan>)</text>
</svg>
</body></html>
